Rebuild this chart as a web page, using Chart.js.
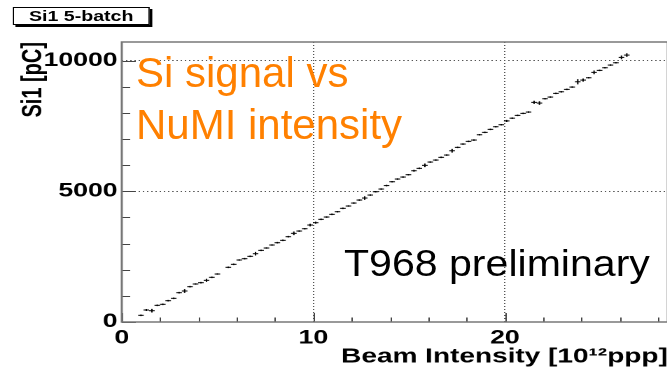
<!DOCTYPE html>
<html>
<head>
<meta charset="utf-8">
<script src="https://cdn.jsdelivr.net/npm/chart.js@4"></script>
<style>
    html, body { margin: 0; padding: 0; width: 667px; height: 374px; overflow: hidden; background: #fff; }
    #stretch { position: absolute; left: 0; top: 0; width: 480px; height: 374px; transform: scaleX(1.4); transform-origin: 0 0; }
    #title-box { position: absolute; left: 9px; top: 7px; width: 96px; height: 16px; border: 1px solid #000; box-shadow: 2px 2px 0 #000; background: #fff;
        font: bold 14px "Liberation Sans", Arial, sans-serif; text-align: center; line-height: 16px; }
    .note { position: absolute; font-family: "Liberation Sans", Arial, sans-serif; line-height: 1; white-space: nowrap; transform-origin: 0 0; }
    .orange { color: #ff8000; font-size: 42px; left: 136px; }
</style>
</head>
<body>
<div id="stretch">
    <canvas id="chart-container" width="480" height="374"></canvas>
    <div id="title-box">Si1 5-batch</div>
</div>
<div class="note orange" style="top: 52px;">Si signal vs</div>
<div class="note orange" style="top: 104px;">NuMI intensity</div>
<div class="note" style="top: 245px; left: 344px; font-size: 37px; color: #000; transform: scaleX(1.11);">T968 preliminary</div>

<script>
// bin centres of the profile (bin width 0.285)
const beamIntensity = [
    1.00, 1.28, 1.57, 1.85, 2.14, 2.42, 2.71, 2.99, 3.28, 3.56,
    3.85, 4.13, 4.42, 4.70, 4.99, 5.56, 5.84, 6.13, 6.41, 6.70,
    6.98, 7.27, 7.55, 7.84, 8.12, 8.41, 8.69, 8.98, 9.26, 9.55,
    9.83, 10.12, 10.40, 10.69, 10.97, 11.26, 11.54, 11.83, 12.11, 12.40,
    12.68, 12.97, 13.25, 13.54, 13.82, 14.11, 14.39, 14.68, 14.96, 15.25,
    15.53, 15.82, 16.10, 16.39, 16.67, 16.96, 17.24, 17.53, 17.81, 18.10,
    18.38, 18.67, 18.95, 19.24, 19.52, 19.81, 20.09, 20.38, 20.66, 20.95,
    21.23, 21.52, 21.80, 22.09, 22.37, 22.66, 22.94, 23.23, 23.51, 23.80,
    24.08, 24.37, 24.65, 24.94, 25.22, 25.51, 25.79, 26.08, 26.36
];
const siSignal = [
    256, 459, 432, 638, 677, 815, 906, 1121, 1186, 1351,
    1454, 1504, 1595, 1710, 1836, 2093, 2207, 2372, 2422, 2513,
    2613, 2742, 2831, 2946, 3034, 3125, 3264, 3393, 3481, 3569,
    3711, 3799, 3929, 4017, 4120, 4220, 4350, 4438, 4552, 4667,
    4744, 4858, 4985, 5088, 5220, 5367, 5471, 5547, 5636, 5788,
    5880, 5995, 6121, 6197, 6301, 6389, 6553, 6683, 6810, 6913,
    6963, 7165, 7257, 7372, 7472, 7548, 7695, 7800, 7907, 7984,
    8034, 8405, 8378, 8543, 8608, 8749, 8810, 8902, 8990, 9193,
    9258, 9346, 9553, 9629, 9729, 9832, 9920, 10126, 10214
];
const siError = [
    30, 40, 70, 30, 30, 30, 30, 30, 70, 30,
    30, 30, 60, 30, 30, 30, 30, 30, 30, 30,
    70, 30, 30, 30, 30, 30, 30, 70, 30, 30,
    50, 40, 30, 30, 30, 30, 30, 30, 30, 30,
    70, 30, 30, 30, 30, 30, 30, 30, 30, 40,
    30, 70, 30, 30, 30, 30, 70, 30, 30, 30,
    30, 30, 30, 30, 30, 30, 40, 30, 30, 30,
    30, 60, 70, 30, 30, 30, 30, 30, 30, 100,
    60, 30, 70, 30, 30, 30, 30, 70, 70
];
const xTickLabels = [0, 10, 20];
const yTickLabels = [0, 5000, 10000];
const xMin = 0, xMax = 28.5;
const yMin = 0, yMax = 10715;

const fontFamily = '"Liberation Sans", Arial, Helvetica, sans-serif';

const frameAndTicks = {
    id: "frameAndTicks",
    afterDatasetsDraw: function (chart) {
        const ctx = chart.ctx;
        const xs = chart.scales.x;
        const ys = chart.scales.y;
        ctx.save();
        // vertical error bars
        ctx.strokeStyle = "#000";
        ctx.lineWidth = 1;
        ctx.beginPath();
        for (let i = 0; i < beamIntensity.length; i++) {
            const px = xs.getPixelForValue(beamIntensity[i]);
            ctx.moveTo(px, ys.getPixelForValue(siSignal[i] - siError[i]));
            ctx.lineTo(px, ys.getPixelForValue(siSignal[i] + siError[i]));
        }
        ctx.stroke();
        ctx.restore();
    },
    afterDraw: function (chart) {
        const ctx = chart.ctx;
        const area = chart.chartArea;
        const xs = chart.scales.x;
        const ys = chart.scales.y;
        ctx.save();
        ctx.strokeStyle = "#444";
        ctx.lineWidth = 1;
        ctx.beginPath();
        for (let v = 0; v <= 28; v += 2) {
            const px = Math.round(xs.getPixelForValue(v)) + 0.5;
            const len = (v % 10 === 0) ? 9 : 4.5;
            ctx.moveTo(px, area.bottom);
            ctx.lineTo(px, area.bottom - len);
        }
        for (let v = 0; v <= 10000; v += 1000) {
            const py = Math.round(ys.getPixelForValue(v)) + 0.5;
            const len = (v % 5000 === 0) ? 10 : 6;
            ctx.moveTo(area.left, py);
            ctx.lineTo(area.left + len, py);
        }
        ctx.stroke();
        ctx.strokeStyle = "#777";
        ctx.lineWidth = 1.5;
        ctx.strokeRect(area.left, area.top, area.right - area.left, area.bottom - area.top);
        ctx.restore();
    }
};

document.addEventListener("DOMContentLoaded", function () {
    const ctx = document.getElementById("chart-container").getContext("2d");
    const points = beamIntensity.map(function (x, i) {
        return { x: x, y: siSignal[i] };
    });

    new Chart(ctx, {
        type: "scatter",
        data: {
            datasets: [
                {
                    label: "Si1 5-batch",
                    data: points,
                    pointStyle: "line",
                    pointRadius: 2,
                    pointHoverRadius: 2,
                    borderColor: "#000",
                    backgroundColor: "#000",
                    pointBorderWidth: 1,
                },
            ],
        },
        plugins: [frameAndTicks],
        options: {
            responsive: false,
            devicePixelRatio: 2,
            animation: false,
            layout: { padding: { top: 42, right: 3, left: 0, bottom: 0 } },
            plugins: {
                legend: { display: false },
                tooltip: { enabled: false },
            },
            scales: {
                x: {
                    type: "linear",
                    min: xMin,
                    max: xMax,
                    afterFit: function (scale) { scale.height = 52; },
                    afterBuildTicks: function (scale) {
                        scale.ticks = xTickLabels.map(function (v) { return { value: v }; });
                    },
                    ticks: {
                        maxRotation: 0,
                        padding: 5,
                        color: "#000",
                        font: { family: fontFamily, size: 19, weight: "bold" },
                        callback: function (value) { return String(value); },
                    },
                    grid: { color: "#555", lineWidth: 1, drawTicks: false },
                    border: { display: false, dash: [1, 2] },
                    title: {
                        display: true,
                        text: "Beam Intensity [10¹²ppp]",
                        align: "end",
                        color: "#000",
                        font: { family: fontFamily, size: 20, weight: "bold" },
                        padding: { top: 0, bottom: 5 },
                    },
                },
                y: {
                    type: "linear",
                    min: yMin,
                    max: yMax,
                    afterFit: function (scale) { scale.width = 87; },
                    afterBuildTicks: function (scale) {
                        scale.ticks = yTickLabels.map(function (v) { return { value: v }; });
                    },
                    ticks: {
                        padding: 3,
                        color: "#000",
                        font: { family: fontFamily, size: 19, weight: "bold" },
                        callback: function (value) { return String(value); },
                    },
                    grid: { color: "#555", lineWidth: 1, drawTicks: false },
                    border: { display: false, dash: [1, 2] },
                    title: {
                        display: true,
                        text: "Si1 [pC]",
                        align: "end",
                        color: "#000",
                        font: { family: fontFamily, size: 20, weight: "bold" },
                        padding: { top: 12, bottom: 0 },
                    },
                },
            },
        },
    });
});
</script>
</body>
</html>
